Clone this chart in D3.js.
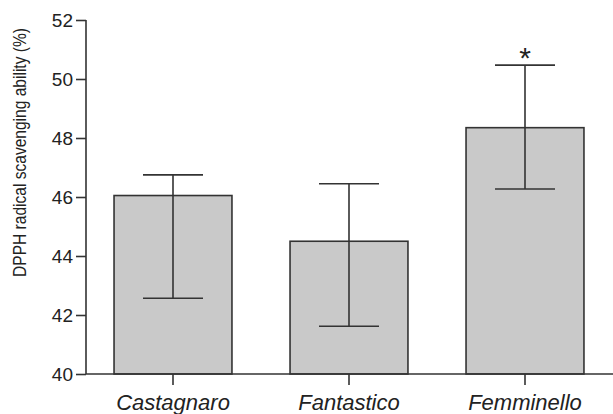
<!DOCTYPE html>
<html><head><meta charset="utf-8">
<script src="https://cdn.jsdelivr.net/npm/d3@7/dist/d3.min.js"></script>
<style>body{margin:0;background:#fff}svg{display:block}text{font-family:"Liberation Sans",Arial,sans-serif;fill:#222}</style>
</head><body><svg id="c" width="613" height="414"></svg>
<script>
const categories = ["Castagnaro","Fantastico","Femminello"];
const values = [46.05, 44.5, 48.35];
const errUpper = [46.75, 46.45, 50.47];
const errLower = [42.57, 41.62, 46.27];
const significant = [false, false, true];
const yTicks = [40,42,44,46,48,50,52];

const svg = d3.select("#c");
const x = d3.scaleBand().domain(categories).range([85, 613]).padding(0);
const y = d3.scaleLinear().domain([40, 52]).range([374, 20]);
const ink = "#333";
const bw = x.bandwidth() * 0.67;
const cx = d => x(d) + x.bandwidth() / 2;

// bars
svg.selectAll("rect.bar").data(categories).join("rect")
  .attr("x", d => cx(d) - bw / 2)
  .attr("y", (d, i) => y(values[i]))
  .attr("width", bw)
  .attr("height", (d, i) => y(40) - y(values[i]))
  .attr("fill", "#c9c9c9").attr("stroke", ink).attr("stroke-width", 1.6);

// error bars
const capW = 30;
const eg = svg.selectAll("g.err").data(categories).join("g");
eg.append("line").attr("x1", d => cx(d)).attr("x2", d => cx(d))
  .attr("y1", (d, i) => y(errUpper[i])).attr("y2", (d, i) => y(errLower[i]))
  .attr("stroke", ink).attr("stroke-width", 1.6);
eg.append("line").attr("x1", d => cx(d) - capW).attr("x2", d => cx(d) + capW)
  .attr("y1", (d, i) => y(errUpper[i])).attr("y2", (d, i) => y(errUpper[i]))
  .attr("stroke", ink).attr("stroke-width", 1.6);
eg.append("line").attr("x1", d => cx(d) - capW).attr("x2", d => cx(d) + capW)
  .attr("y1", (d, i) => y(errLower[i])).attr("y2", (d, i) => y(errLower[i]))
  .attr("stroke", ink).attr("stroke-width", 1.6);

// asterisks
svg.selectAll("text.sig").data(categories.filter((d, i) => significant[i])).join("text")
  .attr("x", d => cx(d)).attr("y", d => y(errUpper[categories.indexOf(d)]) + 3)
  .attr("text-anchor", "middle").attr("font-size", 30).text("*");

// y axis
const yAxis = svg.append("g").attr("transform", "translate(86,0)")
  .call(d3.axisLeft(y).tickValues(yTicks).tickSize(10).tickPadding(3).tickFormat(d3.format("d")));
yAxis.selectAll("path,line").attr("stroke", ink).attr("stroke-width", 1.6);
yAxis.select("path").attr("d", `M0,${y(52)}V${y(40)}`);
yAxis.selectAll("text").attr("font-size", 19).attr("fill", "#222").attr("dy", "0.36em")
  .attr("font-family", "Liberation Sans, Arial, sans-serif");

// x axis
const xAxis = svg.append("g").attr("transform", "translate(0,374)")
  .call(d3.axisBottom(x).tickSize(11));
xAxis.selectAll("path,line").attr("stroke", ink).attr("stroke-width", 1.6);
xAxis.select("path").attr("d", "M86,0H613");
xAxis.selectAll("text").attr("font-size", 22).attr("font-style", "italic").attr("fill", "#222")
  .attr("y", 36).attr("dy", 0)
  .attr("font-family", "Liberation Sans, Arial, sans-serif");

// y label (horizontally condensed via scale to match the narrow original font)
const yl = svg.append("text")
  .attr("text-anchor", "middle").attr("font-size", 18)
  .text("DPPH radical scavenging ability (%)");
const natural = yl.node().getComputedTextLength();
const sx = 249 / natural;
yl.attr("transform", `translate(26,152.5) rotate(-90) scale(${sx},1)`);
</script></body></html>
